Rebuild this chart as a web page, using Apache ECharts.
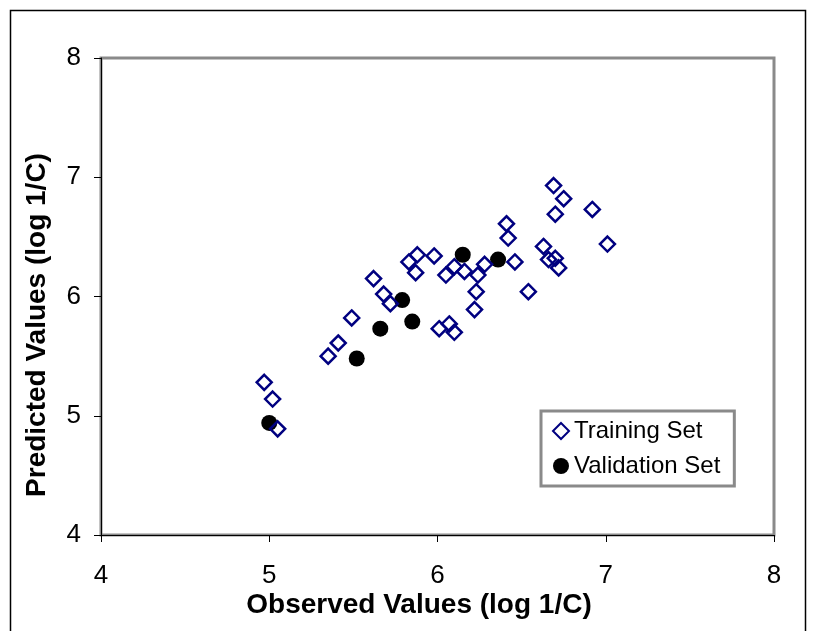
<!DOCTYPE html>
<html>
<head>
<meta charset="utf-8">
<script src="https://cdn.jsdelivr.net/npm/echarts@6/dist/echarts.min.js"></script>
<style>
  html, body { margin: 0; padding: 0; background: #fff; }
  #chart { width: 815px; height: 631px; }
</style>
</head>
<body>
<div id="chart"></div>
<script>
// observed vs predicted, training and validation sets
const trainObserved = [4.97, 5.02, 5.05, 5.35, 5.41, 5.49, 5.62, 5.68, 5.72, 5.83, 5.88, 5.87,
  5.98, 6.01, 6.05, 6.07, 6.10, 6.10, 6.16, 6.22, 6.23, 6.24, 6.28, 6.41,
  6.42, 6.46, 6.54, 6.63, 6.66, 6.70, 6.72, 6.69, 6.75, 6.70, 6.92, 7.01];
const trainPredicted = [5.28, 5.14, 4.89, 5.50, 5.61, 5.82, 6.15, 6.02, 5.94, 6.29, 6.35, 6.20,
  6.34, 5.73, 6.18, 5.77, 5.70, 6.25, 6.21, 5.89, 6.04, 6.18, 6.27, 6.61,
  6.49, 6.29, 6.04, 6.42, 6.31, 6.32, 6.24, 6.93, 6.82, 6.69, 6.73, 6.44];
const validObserved = [5.00, 5.52, 5.66, 5.79, 5.85, 6.15, 6.36];
const validPredicted = [4.94, 5.48, 5.73, 5.97, 5.79, 6.35, 6.31];
const axisTicks = [4, 5, 6, 7, 8];

const font = 'Liberation Sans, Arial, sans-serif';
const pairs = (xs, ys) => xs.map((x, i) => [x, ys[i]]);

const chart = echarts.init(document.getElementById('chart'));
chart.setOption({
  animation: false,
  backgroundColor: '#fff',
  textStyle: { fontFamily: font, color: '#000' },
  graphic: [
    {
      type: 'rect',
      shape: { x: 10.5, y: 10.5, width: 795, height: 640 },
      style: { fill: 'none', stroke: '#000', lineWidth: 1.5 },
      silent: true
    },
    {
      // x axis title
      type: 'text', x: 419, y: 605,
      style: { text: 'Observed Values (log 1/C)', font: 'bold 28px ' + font, fill: '#000', align: 'center', verticalAlign: 'middle' },
      silent: true
    },
    {
      // y axis title
      type: 'text', x: 37, y: 325, rotation: Math.PI / 2,
      style: { text: 'Predicted Values (log 1/C)', font: 'bold 28px ' + font, fill: '#000', align: 'center', verticalAlign: 'middle' },
      silent: true
    }
  ],
  grid: {
    left: 101, top: 58, right: 41, bottom: 96,
    show: true, borderColor: '#8a8a8a', borderWidth: 3
  },
  xAxis: {
    type: 'value',
    min: axisTicks[0], max: axisTicks[axisTicks.length - 1], interval: 1,
    axisLine: { show: true, lineStyle: { color: '#000', width: 1 } },
    axisTick: { show: true, inside: false, length: 7, lineStyle: { color: '#000' } },
    axisLabel: { fontSize: 26, color: '#000', margin: 28, fontFamily: font },
    splitLine: { show: false }
  },
  yAxis: {
    type: 'value',
    min: axisTicks[0], max: axisTicks[axisTicks.length - 1], interval: 1,
    axisLine: { show: true, lineStyle: { color: '#000', width: 1 } },
    axisTick: { show: true, inside: false, length: 7, lineStyle: { color: '#000' } },
    axisLabel: { fontSize: 26, color: '#000', margin: 20, fontFamily: font },
    splitLine: { show: false }
  },
  legend: {
    orient: 'vertical',
    left: 541, top: 411,
    padding: [8, 14, 8, 11],
    itemGap: 11,
    itemWidth: 16, itemHeight: 16,
    backgroundColor: '#fff',
    borderColor: '#8a8a8a', borderWidth: 3,
    textStyle: { fontFamily: font, fontSize: 24, color: '#000' },
    data: ['Training Set', 'Validation Set']
  },
  series: [
    {
      name: 'Validation Set',
      type: 'scatter',
      symbol: 'circle',
      symbolSize: 16,
      itemStyle: { color: '#000', opacity: 1 },
      data: pairs(validObserved, validPredicted)
    },
    {
      name: 'Training Set',
      type: 'scatter',
      symbol: 'diamond',
      symbolSize: 15,
      itemStyle: { color: 'rgba(255,255,255,0)', borderColor: '#000080', borderWidth: 2.5, opacity: 1 },
      data: pairs(trainObserved, trainPredicted)
    }
  ]
});
</script>
</body>
</html>
